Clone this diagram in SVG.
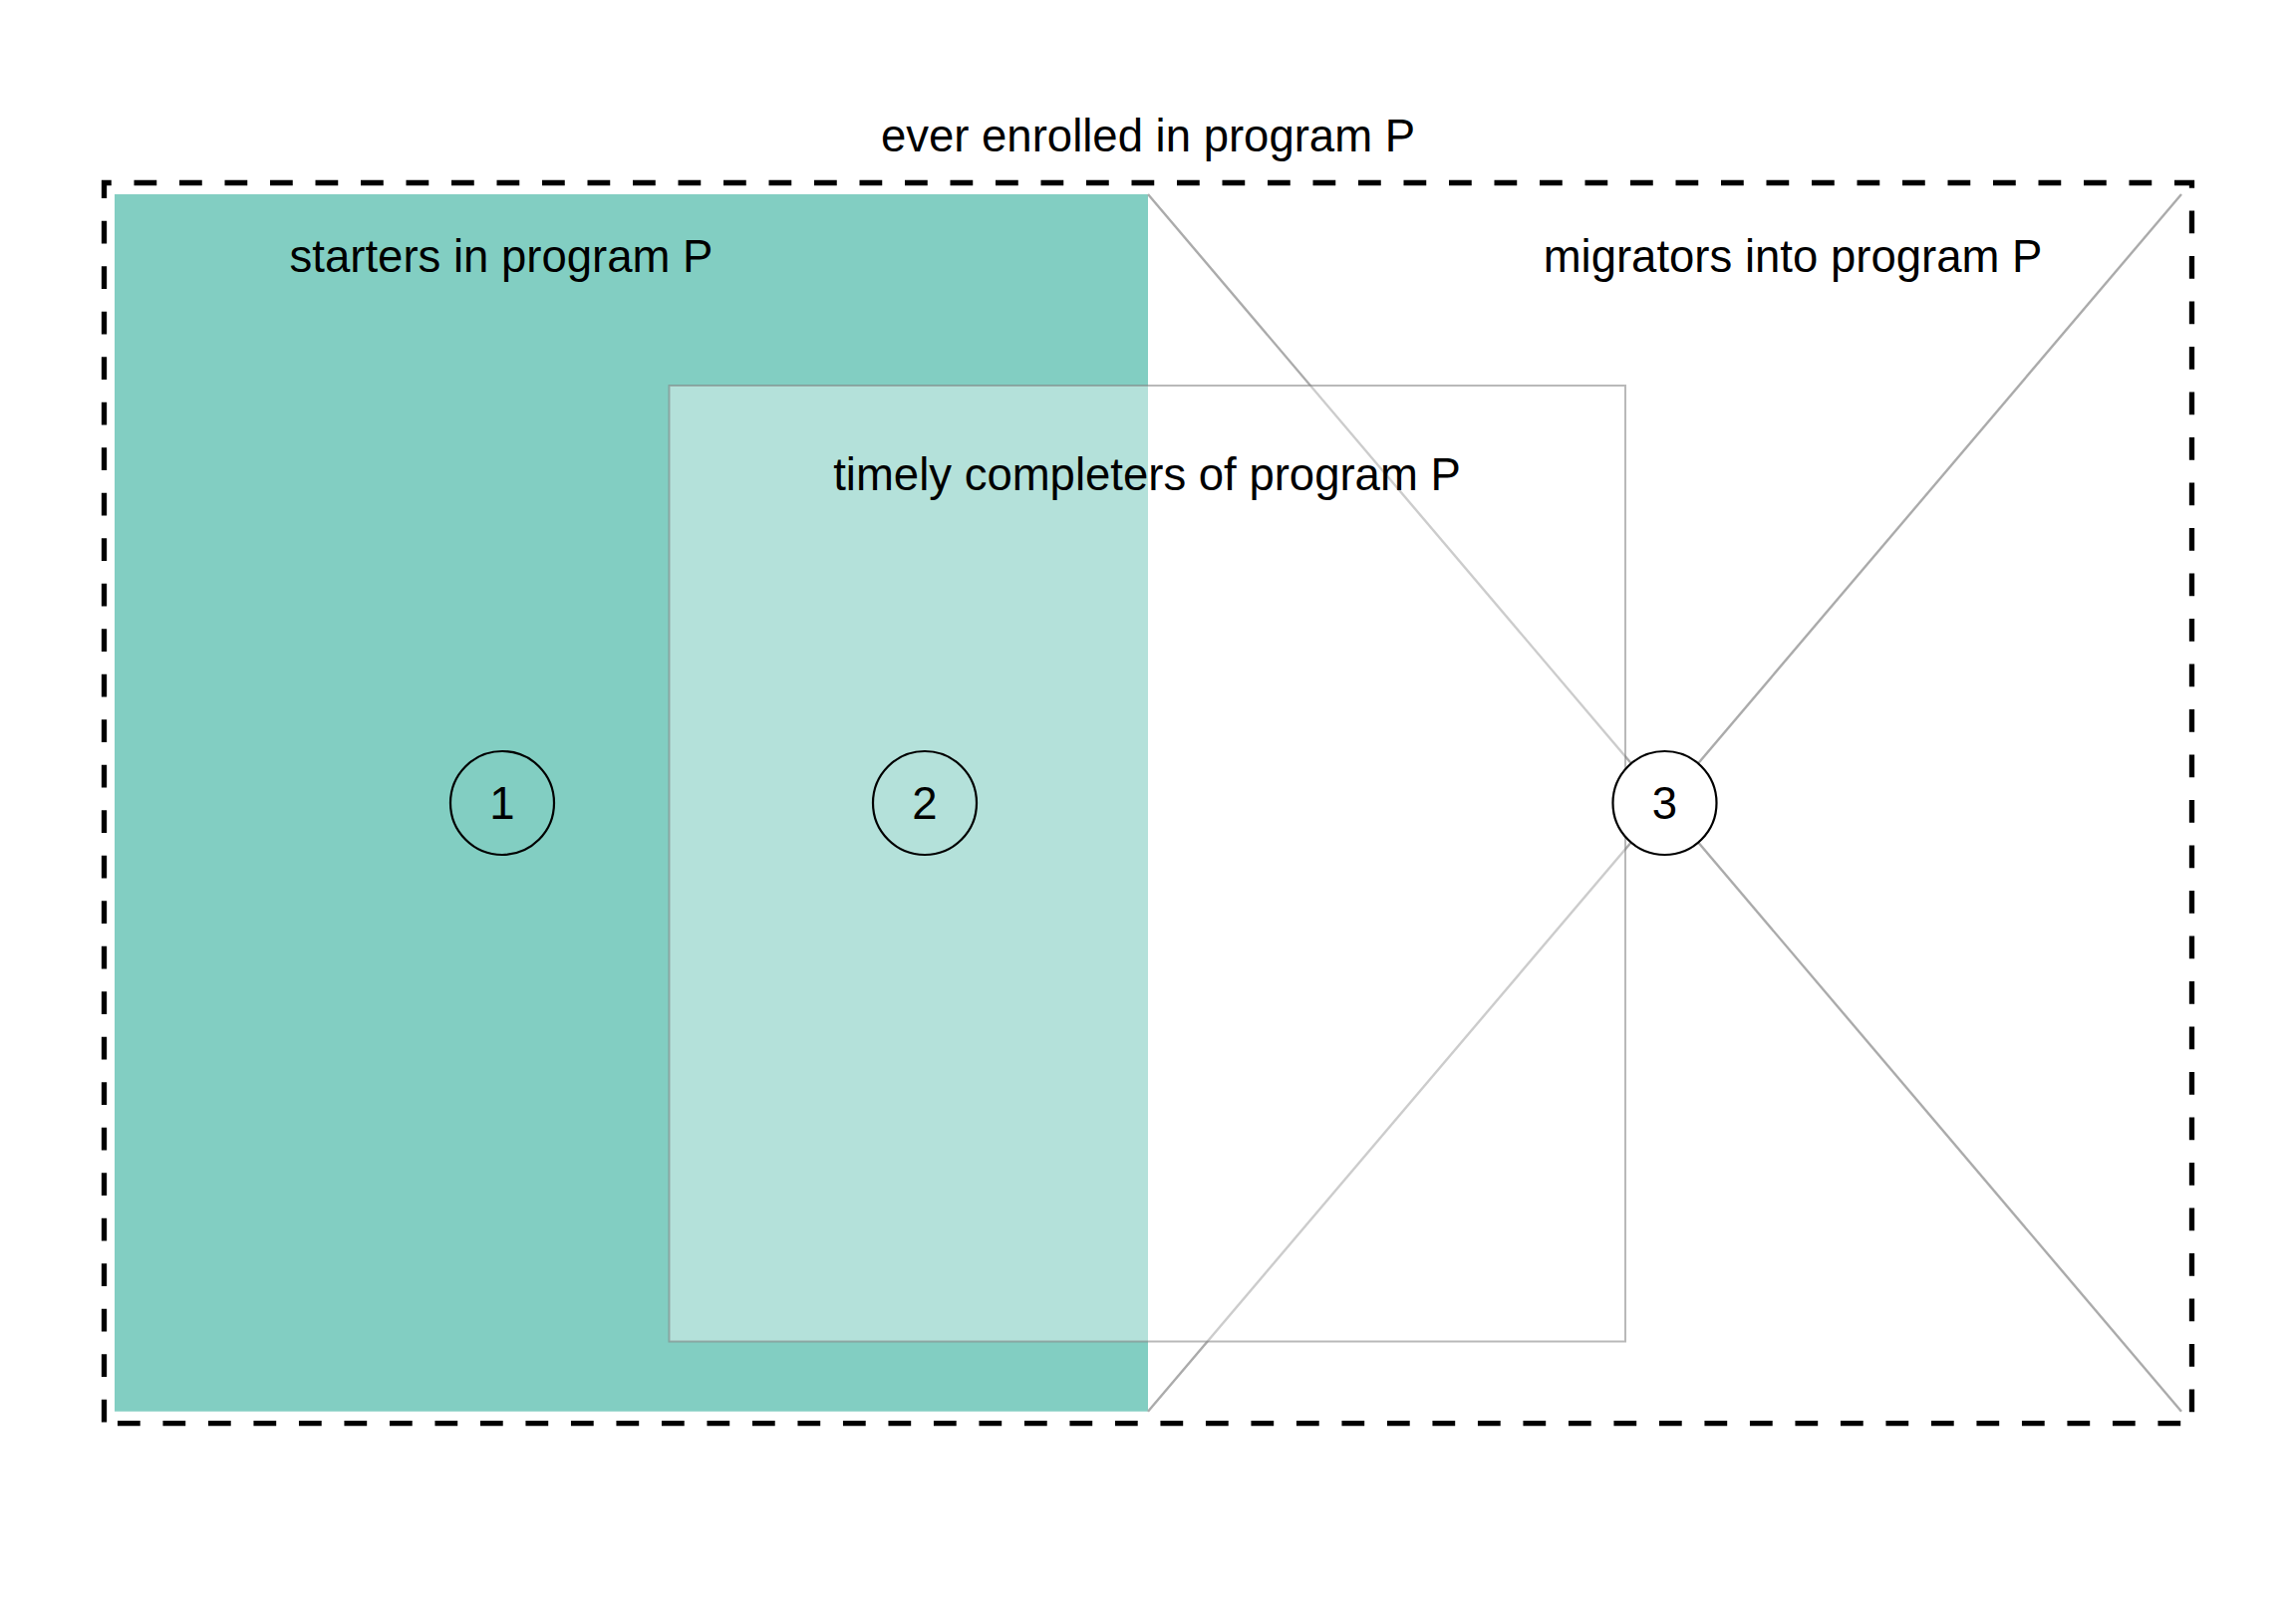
<svg xmlns="http://www.w3.org/2000/svg" width="2304" height="1612" viewBox="0 0 2304 1612">
<style>
text{font-family:"Liberation Sans",Arial,sans-serif;font-size:45.5px;fill:#000;text-anchor:middle}
.cross{stroke:#ababab;stroke-width:2.4;fill:none}
.num{fill:none;stroke:#000;stroke-width:2.2}
</style>
<rect width="2304" height="1612" fill="#fff"/>
<g id="starters">
<rect x="115" y="195" width="1037" height="1221.7" fill="#82cec2"/>
<text x="503" y="273">starters in program P</text>
</g>
<g id="migrators">
<g id="connectors">
<line class="cross" x1="1152" y1="195" x2="2189" y2="1416.7"/>
<line class="cross" x1="2189" y1="195" x2="1152" y2="1416.7"/>
</g>
<text x="1799" y="273">migrators into program P</text>
</g>
<g id="completers">
<rect x="671.5" y="387" width="959.5" height="959.5" fill="#fff" fill-opacity="0.4" stroke="#808080" stroke-opacity="0.55" stroke-width="2"/>
<text x="1151" y="492">timely completers of program P</text>
</g>
<g id="ever-enrolled">
<path d="M104.5 1428.7 V183.5 H2199.5 V1428.7 Z" fill="none" stroke="#000" stroke-width="5.3" stroke-dasharray="22.75 22.75" stroke-dashoffset="44.3" stroke-linejoin="miter"/>
<text x="1152" y="152">ever enrolled in program P</text>
</g>
<g id="region-1">
<circle class="num" cx="504" cy="806" r="52"/>
<text x="504" y="822">1</text>
</g>
<g id="region-2">
<circle class="num" cx="928" cy="806" r="52"/>
<text x="928" y="822">2</text>
</g>
<g id="region-3">
<circle class="num" cx="1670.5" cy="806" r="52" style="fill:#fff"/>
<text x="1670.5" y="822">3</text>
</g>
</svg>
